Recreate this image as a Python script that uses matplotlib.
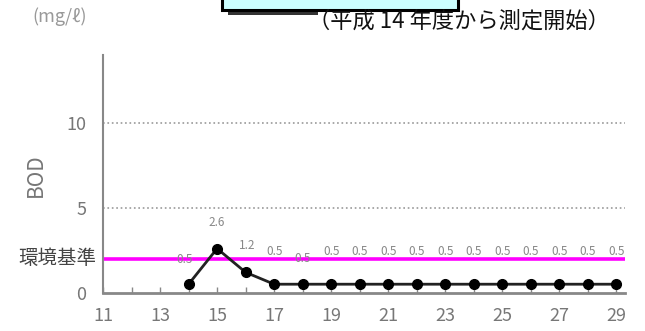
import matplotlib
matplotlib.use('Agg')
import matplotlib.pyplot as plt
import matplotlib.patches as mpatches

plt.rcParams['font.family'] = ['Noto Sans CJK JP', 'DejaVu Sans']

######## DATA ############
years = [14, 15, 16, 17, 18, 19, 20, 21, 22, 23, 24, 25, 26, 27, 28, 29]
bod = [0.5, 2.6, 1.2, 0.5, 0.5, 0.5, 0.5, 0.5, 0.5, 0.5, 0.5, 0.5, 0.5, 0.5, 0.5, 0.5]
bodLabels = ['0.5', '2.6', '1.2', '0.5', '0.5', '0.5', '0.5', '0.5', '0.5', '0.5',
             '0.5', '0.5', '0.5', '0.5', '0.5', '0.5']
standard = 2
xTicks = list(range(11, 30))
xLabels = [str(y) if y % 2 == 1 else '' for y in xTicks]
yTicks = [0, 5, 10]
##############################

W, H = 645, 331
fig = plt.figure(figsize=(W / 100, H / 100), dpi=100)
ax = fig.add_axes([103 / W, 1 - 292.7 / H, (625 - 103) / W, (292.7 - 55) / H])

# grid lines
for yv in [5, 10]:
    ax.axhline(yv, color='#999999', linestyle=':', linewidth=1.2, zorder=1)

# environmental standard
ax.axhline(standard, color='#ff00ff', linewidth=2.6, zorder=2)

# data
ax.plot(years, bod, color='#222222', linewidth=2, marker='o', markersize=7,
        markerfacecolor='black', markeredgecolor='black', zorder=5)

# point labels (pixel offsets)
offsets = {14: (-4, 25), 15: (0, 26), 16: (2, 27), 18: (0, 26)}
for x, v, lab in zip(years, bod, bodLabels):
    dx, dy = offsets.get(x, (0, 33))
    ax.annotate(lab, (x, v), xytext=(dx, dy), textcoords='offset pixels',
                ha='center', va='center', fontsize=8.5, color='#888888', zorder=6)

ax.set_xlim(11, 29.3)
ax.set_ylim(0, 14)
ax.set_xticks(xTicks)
ax.set_xticklabels(xLabels)
ax.set_yticks(yTicks)
ax.tick_params(axis='x', direction='in', length=4, width=1, color='#888888',
               labelsize=13, labelcolor='#777777', pad=10)
ax.tick_params(axis='y', length=0, labelsize=13, labelcolor='#777777', pad=12)

for s in ['top', 'right']:
    ax.spines[s].set_visible(False)
ax.spines['left'].set_color('#888888')
ax.spines['left'].set_linewidth(1.5)
ax.spines['bottom'].set_color('#888888')
ax.spines['bottom'].set_linewidth(2)

# texts around the axes
fig.text(60 / W, 1 - 17 / H, '(mg/ℓ)', ha='center', va='center', fontsize=13, color='#999999')
fig.text(36 / W, 1 - 175 / H, 'BOD', ha='center', va='center', fontsize=15,
         color='#777777', rotation=90)
fig.text(96 / W, 1 - 258 / H, '環境基準', ha='right', va='center', fontsize=14, color='#444444')
fig.text(459 / W, 1 - 21 / H, '（平成 14 年度から測定開始）', ha='center', va='center',
         fontsize=16, color='#111111')

# title box cut off at the top
fig.patches.append(mpatches.Rectangle((228 / W, 1 - 15 / H), 90 / W, 6 / H,
                                      transform=fig.transFigure, facecolor='#333333',
                                      edgecolor='none', zorder=1))
fig.patches.append(mpatches.Rectangle((222 / W, 1 - 10 / H), (458 - 222) / W, 20 / H,
                                      transform=fig.transFigure, facecolor='#ccffff',
                                      edgecolor='black', linewidth=2.2, zorder=2))

plt.savefig('out.png', dpi=100)
